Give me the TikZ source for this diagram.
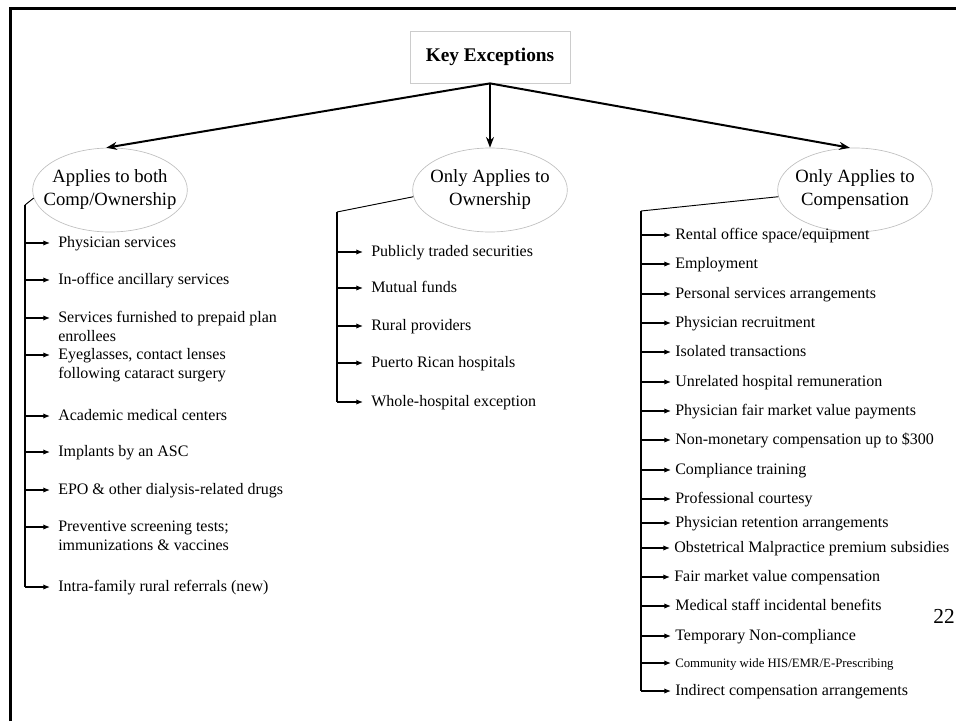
\documentclass[tikz,border=0pt]{standalone}
\usepackage{fontspec}
\setmainfont{Liberation Serif}
\usetikzlibrary{arrows.meta,shapes.geometric}
\newcommand{\twolines}[2]{\begin{tabular}[t]{@{}l@{}}#1\\#2\end{tabular}}
\tikzset{
  frame/.style={line width=2.2pt},
  keybox/.style={draw=black!20,line width=0.6pt,minimum width=120pt,minimum height=39pt,
    font=\fontsize{14.5}{17}\selectfont\bfseries},
  group/.style={ellipse,draw=black!25,line width=0.5pt,inner xsep=-10pt,inner ysep=0pt,
    minimum width=116pt,minimum height=63pt,align=center,font=\fontsize{14}{17.25}\selectfont},
  branch/.style={line width=1.5pt,-{Stealth[length=8pt,width=6pt]}},
  stem/.style={line width=1.4pt},
  link/.style={line width=0.7pt},
  leaf/.style={line width=0.9pt,-{Latex[length=5pt,width=4pt]}},
  item/.style={anchor=base west,inner sep=0pt,font=\fontsize{12}{14.5}\selectfont}
}
\begin{document}
\begin{tikzpicture}[x=0.75pt,y=-0.75pt]
\useasboundingbox (0,0) rectangle (956,721);
\draw[frame] (10.5,721) -- (10.5,8.5) -- (956,8.5);
% top of the tree
\node[keybox] (key) at (490,57) {Key Exceptions};
\node[group] (both) at (110,190) {Applies to both\\Comp/Ownership};
\node[group] (own) at (490,190) {Only Applies to\\Ownership};
\node[group] (comp) at (855,190) {Only Applies to\\Compensation};
\draw[branch] (key.south) -- (both.95);
\draw[branch] (key.south) -- (own.north);
\draw[branch] (key.south) -- (comp.97);
% left column
\coordinate (ta) at (25,205);
\node[item] (a1) at (58,247) {Physician services};
\node[item] (a2) at (58,284) {In-office ancillary services};
\node[item] (a3) at (58,322) {\twolines{Services furnished to prepaid plan}{enrollees}};
\node[item] (a4) at (58,359) {\twolines{Eyeglasses, contact lenses}{following cataract surgery}};
\node[item] (a5) at (58,420) {Academic medical centers};
\node[item] (a6) at (58,456) {Implants by an ASC};
\node[item] (a7) at (58,494) {EPO \& other dialysis-related drugs};
\node[item] (a8) at (58,531) {\twolines{Preventive screening tests;}{immunizations \& vaccines}};
\node[item] (a9) at (58,591) {Intra-family rural referrals (new)};
\draw[link] (both.186) -- (ta);
\draw[stem] (ta) -- ([yshift=3pt]a9.base west -| ta);
\foreach \n in {a1,a2,a3,a4,a5,a6,a7,a8,a9}
  \draw[leaf] ([yshift=3pt]\n.base west -| ta) -- ([xshift=-6pt,yshift=3pt]\n.base west);
% middle column
\coordinate (tb) at (337,212);
\node[item] (b1) at (371,256) {Publicly traded securities};
\node[item] (b2) at (371,292) {Mutual funds};
\node[item] (b3) at (371,330) {Rural providers};
\node[item] (b4) at (371,367) {Puerto Rican hospitals};
\node[item] (b5) at (371,406) {Whole-hospital exception};
\draw[link] (own.185) -- (tb);
\draw[stem] (tb) -- ([yshift=3pt]b5.base west -| tb);
\foreach \n in {b1,b2,b3,b4,b5}
  \draw[leaf] ([yshift=3pt]\n.base west -| tb) -- ([xshift=-6pt,yshift=3pt]\n.base west);
% right column
\coordinate (tc) at (641,211);
\node[item] (c1) at (675,239) {Rental office space/equipment};
\node[item] (c2) at (675,268) {Employment};
\node[item] (c3) at (675,298) {Personal services arrangements};
\node[item] (c4) at (675,327) {Physician recruitment};
\node[item] (c5) at (675,356) {Isolated transactions};
\node[item] (c6) at (675,386) {Unrelated hospital remuneration};
\node[item] (c7) at (675,415) {Physician fair market value payments};
\node[item] (c8) at (675,444) {Non-monetary compensation up to \$300};
\node[item] (c9) at (675,474) {Compliance training};
\node[item] (c10) at (675,503) {Professional courtesy};
\node[item] (c11) at (675,527) {Physician retention arrangements};
\node[item] (c12) at (674,552) {Obstetrical Malpractice premium subsidies};
\node[item] (c13) at (674,581) {Fair market value compensation};
\node[item] (c14) at (675,610) {Medical staff incidental benefits};
\node[item] (c15) at (675,640) {Temporary Non-compliance};
\node[item,font=\fontsize{9.6}{11}\selectfont] (c16) at (675,667) {Community wide HIS/EMR/E-Prescribing};
\node[item] (c17) at (675,695) {Indirect compensation arrangements};
\draw[link] (comp.185) -- (tc);
\draw[stem] (tc) -- ([yshift=3pt]c17.base west -| tc);
\foreach \n in {c1,c2,c3,c4,c5,c6,c7,c8,c9,c10,c11,c12,c13,c14,c15,c16,c17}
  \draw[leaf] ([yshift=3pt]\n.base west -| tc) -- ([xshift=-3pt,yshift=3pt]\n.base west);
% page number
\node[font=\fontsize{16}{18}\selectfont] (page) at (944,616) {22};
\end{tikzpicture}
\end{document}
